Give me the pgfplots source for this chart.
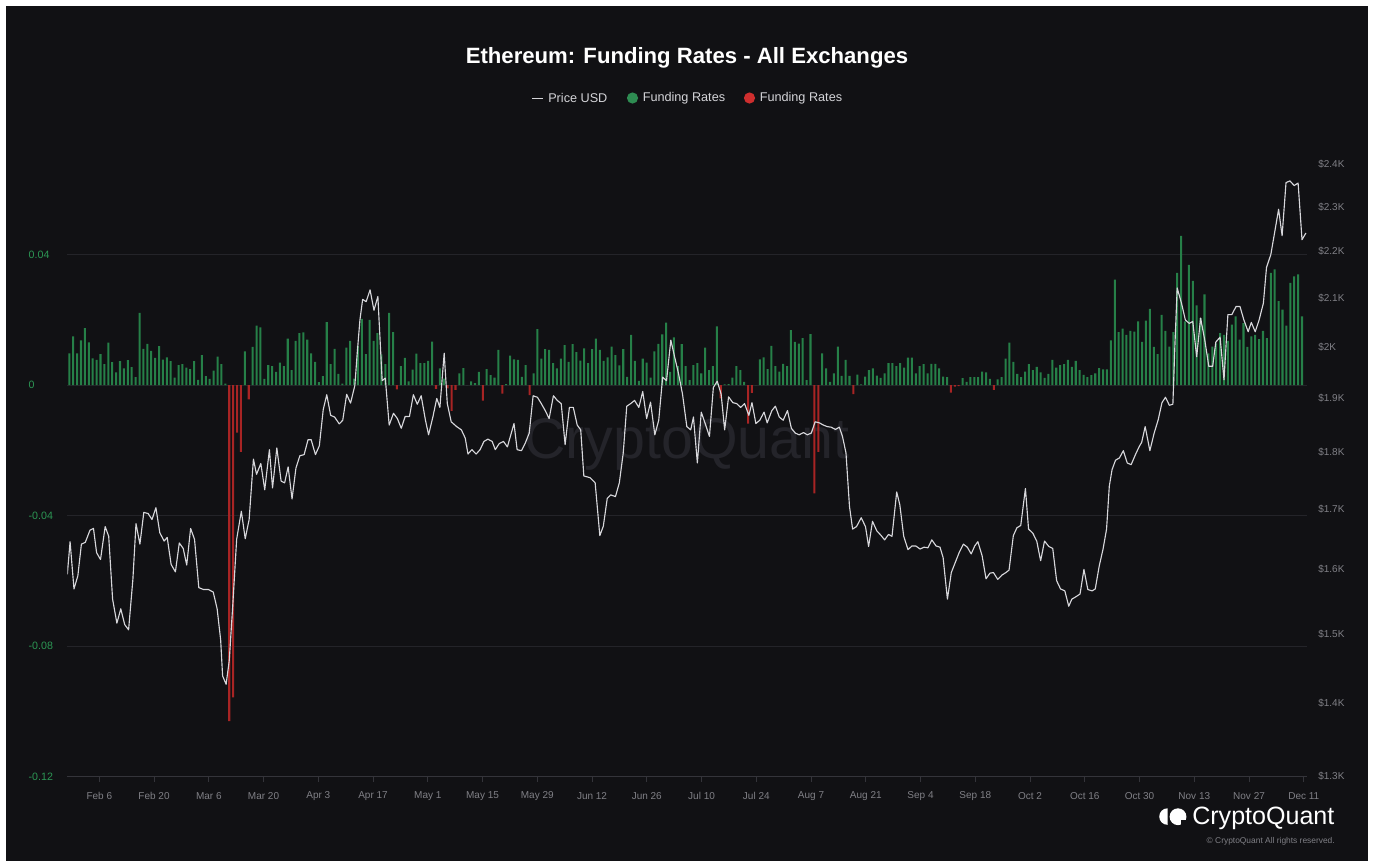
\documentclass[border=0pt]{standalone}
\usepackage{pgfplots}
\pgfplotsset{compat=1.18}
\usepackage{pgfplotstable}
\usepackage{fontspec}
\setmainfont{Liberation Sans}
\definecolor{bg}{RGB}{17,17,20}
\definecolor{gridc}{RGB}{36,36,41}
\definecolor{axisc}{RGB}{52,52,58}
\definecolor{gbar}{RGB}{38,128,72}
\definecolor{rbar}{RGB}{168,36,36}
\definecolor{gdot}{RGB}{46,140,82}
\definecolor{rdot}{RGB}{206,46,46}
\definecolor{ticklab}{RGB}{128,128,134}
\definecolor{ylab}{RGB}{44,150,84}
\definecolor{wm}{RGB}{36,36,42}
\definecolor{legtext}{RGB}{212,212,216}
\definecolor{pricec}{RGB}{215,215,219}

\pgfplotstableread{
n v
1 0.0097
2 0.0149
3 0.0097
4 0.0137
5 0.0174
6 0.0131
7 0.0082
8 0.0077
9 0.0095
10 0.0064
11 0.0130
12 0.0070
13 0.0039
14 0.0073
15 0.0051
16 0.0076
17 0.0055
18 0.0024
19 0.0221
20 0.0111
21 0.0126
22 0.0105
23 0.0083
24 0.0119
25 0.0078
26 0.0085
27 0.0073
28 0.0023
29 0.0061
30 0.0064
31 0.0053
32 0.0049
33 0.0073
34 0.0016
35 0.0092
36 0.0027
37 0.0019
38 0.0044
39 0.0087
40 0.0064
41 0.0004
46 0.0103
48 0.0117
49 0.0182
50 0.0177
51 0.0019
52 0.0061
53 0.0058
54 0.0040
55 0.0069
56 0.0058
57 0.0142
58 0.0046
59 0.0135
60 0.0159
61 0.0161
62 0.0139
63 0.0097
64 0.0071
65 0.0009
66 0.0027
67 0.0193
68 0.0064
69 0.0111
70 0.0034
71 0.0004
72 0.0115
73 0.0135
74 0.0020
75 0.0120
76 0.0203
77 0.0095
78 0.0200
79 0.0135
80 0.0159
81 0.0094
82 0.0064
83 0.0221
84 0.0162
86 0.0058
87 0.0083
88 0.0011
89 0.0047
90 0.0096
91 0.0067
92 0.0067
93 0.0074
94 0.0133
96 0.0051
97 0.0020
101 0.0036
102 0.0052
103 0.0000
104 0.0011
105 0.0006
106 0.0040
108 0.0049
109 0.0030
110 0.0023
111 0.0108
113 0.0003
114 0.0090
115 0.0079
116 0.0077
117 0.0025
118 0.0061
120 0.0036
121 0.0171
122 0.0081
123 0.0110
124 0.0108
125 0.0067
126 0.0051
127 0.0081
128 0.0122
129 0.0071
130 0.0125
131 0.0101
132 0.0075
133 0.0112
134 0.0067
135 0.0110
136 0.0142
137 0.0108
138 0.0074
139 0.0085
140 0.0118
141 0.0092
142 0.0060
143 0.0110
144 0.0025
145 0.0154
146 0.0074
147 0.0013
148 0.0081
149 0.0069
150 0.0023
151 0.0103
152 0.0126
153 0.0155
154 0.0191
155 0.0040
156 0.0146
157 0.0058
158 0.0125
159 0.0058
160 0.0015
161 0.0061
162 0.0067
163 0.0036
164 0.0115
165 0.0046
166 0.0058
167 0.0180
169 0.0002
170 0.0003
171 0.0023
172 0.0058
173 0.0046
174 0.0010
177 0.0000
178 0.0079
179 0.0085
180 0.0049
181 0.0120
182 0.0058
183 0.0041
184 0.0065
185 0.0058
186 0.0168
187 0.0132
188 0.0127
189 0.0144
190 0.0015
191 0.0156
194 0.0097
195 0.0051
196 0.0010
197 0.0036
198 0.0118
199 0.0028
200 0.0077
201 0.0028
203 0.0032
204 0.0002
205 0.0026
206 0.0046
207 0.0051
208 0.0029
209 0.0022
210 0.0036
211 0.0067
212 0.0067
213 0.0058
214 0.0067
215 0.0053
216 0.0084
217 0.0084
218 0.0036
219 0.0058
220 0.0064
221 0.0036
222 0.0065
223 0.0065
224 0.0051
225 0.0026
226 0.0024
230 0.0021
231 0.0010
232 0.0024
233 0.0024
234 0.0024
235 0.0041
236 0.0039
237 0.0019
239 0.0017
240 0.0024
241 0.0081
242 0.0130
243 0.0071
244 0.0034
245 0.0024
246 0.0041
247 0.0064
248 0.0046
249 0.0056
250 0.0039
251 0.0022
252 0.0034
253 0.0077
254 0.0053
255 0.0061
256 0.0064
257 0.0077
258 0.0056
259 0.0074
260 0.0046
261 0.0031
262 0.0024
263 0.0030
264 0.0036
265 0.0052
266 0.0048
267 0.0048
268 0.0137
269 0.0323
270 0.0162
271 0.0173
272 0.0154
273 0.0166
274 0.0164
275 0.0195
276 0.0132
277 0.0197
278 0.0233
279 0.0117
280 0.0095
281 0.0215
282 0.0166
283 0.0118
284 0.0162
285 0.0344
286 0.0457
287 0.0195
288 0.0368
289 0.0319
290 0.0244
291 0.0205
292 0.0278
293 0.0097
294 0.0118
295 0.0128
296 0.0159
297 0.0154
298 0.0135
299 0.0185
300 0.0210
301 0.0139
302 0.0190
303 0.0117
304 0.0149
305 0.0154
306 0.0141
307 0.0166
308 0.0144
309 0.0344
310 0.0354
311 0.0257
312 0.0231
313 0.0182
314 0.0313
315 0.0333
316 0.0339
317 0.0210
}\greentab

\pgfplotstableread{
n v
42 -0.1030
43 -0.0957
44 -0.0146
45 -0.0205
47 -0.0044
85 -0.0013
95 -0.0012
98 -0.0010
99 -0.0079
100 -0.0015
107 -0.0048
112 -0.0026
119 -0.0031
168 -0.0041
175 -0.0118
176 -0.0024
192 -0.0332
193 -0.0205
202 -0.0028
227 -0.0023
228 -0.0005
229 -0.0003
238 -0.0015
}\redtab

\pgfplotstableread{
n p
0.5 1592
1.2 1645
2.2 1569
3.2 1590
4.1 1641
5.1 1644
6.3 1664
7.2 1667
8.0 1627
9.0 1616
10.2 1670
11.1 1654
12.1 1553
13.2 1516
14.2 1538
15.2 1514
16.2 1506
17.3 1584
18.1 1675
19.1 1641
20.1 1694
21.2 1692
22.2 1682
23.2 1702
24.2 1660
25.3 1646
26.1 1652
27.1 1608
28.2 1596
29.2 1643
30.2 1634
31.1 1607
32.1 1667
33.1 1649
34.2 1571
35.4 1568
36.7 1568
37.9 1564
38.9 1538
39.8 1491
40.3 1438
41.2 1426
42.0 1460
42.9 1543
43.9 1649
45.1 1696
46.1 1650
47.1 1682
48.2 1787
49.0 1760
50.1 1779
51.1 1733
52.3 1804
53.1 1736
54.2 1807
55.3 1748
56.2 1745
57.1 1773
58.1 1717
59.1 1771
60.1 1793
61.2 1795
62.2 1822
63.0 1822
64.1 1795
65.1 1811
66.1 1878
67.0 1906
68.0 1867
69.0 1864
70.2 1851
71.1 1858
72.1 1907
73.1 1890
74.2 1924
74.8 1986
75.5 2054
76.2 2097
77.1 2092
78.1 2117
79.1 2074
80.1 2103
81.2 1933
82.0 1938
83.0 1849
84.1 1871
85.1 1861
86.1 1843
87.1 1865
88.2 1865
89.2 1906
90.2 1888
91.2 1904
92.3 1858
93.1 1831
94.2 1864
95.2 1899
96.0 1882
97.1 1987
97.9 1889
98.9 1855
100.3 1846
101.5 1840
102.5 1825
103.2 1796
104.2 1804
105.3 1796
106.3 1804
107.3 1819
108.3 1823
109.4 1819
110.2 1804
111.2 1815
112.3 1819
113.3 1809
114.3 1834
115.0 1852
115.8 1804
116.9 1802
117.9 1816
118.9 1834
119.9 1904
121.0 1901
122.0 1889
123.0 1876
124.0 1861
125.1 1904
126.1 1895
127.1 1889
128.1 1813
129.2 1882
130.2 1882
131.2 1849
132.1 1840
132.9 1757
134.5 1754
135.8 1745
137.0 1655
137.9 1671
138.9 1718
139.8 1724
141.0 1721
142.0 1745
143.0 1798
143.9 1884
144.9 1889
145.9 1895
147.0 1882
148.0 1912
149.0 1861
150.0 1892
151.1 1831
152.1 1858
153.1 1940
154.1 1933
155.2 2013
156.2 1979
157.2 1946
158.2 1907
159.3 1846
160.3 1840
161.0 1864
162.0 1780
163.0 1873
164.0 1852
165.1 1828
166.1 1920
167.1 1932
168.1 1907
169.0 1840
170.0 1902
171.1 1891
172.1 1889
173.1 1882
174.1 1889
175.2 1867
176.0 1891
177.0 1852
178.0 1858
179.1 1873
179.9 1853
181.1 1876
182.0 1884
183.0 1864
184.0 1858
185.1 1876
186.1 1843
187.1 1834
188.1 1831
189.2 1835
190.2 1831
191.2 1834
192.2 1855
193.3 1853
194.3 1849
195.3 1846
196.3 1845
197.4 1841
198.4 1845
199.2 1828
200.1 1798
201.0 1704
201.8 1666
202.8 1670
204.0 1685
205.1 1670
205.9 1637
206.9 1679
208.0 1663
209.0 1656
210.0 1648
211.0 1657
211.9 1654
213.1 1729
213.9 1707
214.9 1654
216.0 1632
217.0 1638
218.0 1638
219.1 1633
220.1 1636
221.1 1635
222.1 1648
223.2 1638
224.2 1636
225.0 1619
226.1 1553
227.1 1595
228.1 1611
229.1 1627
230.2 1641
231.2 1636
232.2 1625
233.1 1638
233.9 1645
235.0 1622
236.0 1585
237.0 1594
237.9 1595
239.0 1584
240.1 1591
241.1 1595
241.9 1599
243.0 1655
243.9 1668
244.9 1672
246.1 1735
246.9 1666
248.0 1659
249.0 1646
250.0 1614
251.0 1646
252.1 1637
253.1 1634
254.1 1582
255.1 1569
256.2 1566
257.2 1542
258.0 1553
259.1 1557
260.1 1561
261.1 1600
262.1 1568
263.2 1566
264.0 1569
265.0 1605
266.0 1633
266.9 1666
267.6 1739
268.3 1768
269.2 1785
270.2 1789
271.2 1802
272.2 1780
273.2 1777
274.3 1795
275.3 1810
275.9 1817
276.8 1846
278.0 1802
279.1 1834
280.1 1858
281.1 1891
282.0 1901
283.0 1886
283.9 1888
284.4 1999
285.0 2121
286.1 2089
287.1 2054
288.1 2047
289.0 2051
290.0 1980
291.0 2058
292.1 2012
293.1 1961
294.1 1961
294.9 2009
296.0 2019
297.0 1935
298.0 2065
299.0 2065
300.1 2082
301.1 2082
302.1 2054
303.2 2030
304.0 2049
305.0 2030
306.0 2054
307.1 2089
307.9 2165
309.0 2193
310.0 2243
311.0 2295
311.9 2235
312.9 2357
313.9 2361
315.0 2350
316.0 2356
317.0 2226
318.0 2241
}\pricetab

\begin{document}
\begin{tikzpicture}[x=0.75pt,y=-0.75pt]
\useasboundingbox (0,0) rectangle (1375,861);
\fill[white] (0,0) rectangle (1375,861);
\fill[bg] (6,6) rectangle (1368,861);
% watermark
\node[text=wm, font=\fontsize{43}{43}\selectfont] at (687,444) {CryptoQuant};
% title and legend
\node[text=white, font=\bfseries\fontsize{16.6}{20}\selectfont] at (687,58) {Ethereum: Funding Rates - All Exchanges};
\draw[legtext, line width=0.7pt] (532,98) -- (543,98);
\node[anchor=west, inner sep=0pt, text=legtext, font=\fontsize{9.5}{11}\selectfont] at (548,98) {Price USD};
\fill[gdot] (632.5,98) circle[radius=4.2pt];
\node[anchor=west, inner sep=0pt, text=legtext, font=\fontsize{9.5}{11}\selectfont] at (642.5,98) {Funding Rates};
\fill[rdot] (749.5,98) circle[radius=4.2pt];
\node[anchor=west, inner sep=0pt, text=legtext, font=\fontsize{9.5}{11}\selectfont] at (759.5,98) {Funding Rates};

\begin{axis}[
  at={(50.51pt,-582.525pt)}, anchor=south west,
  scale only axis, width=929.5pt, height=470.25pt,
  xmin=0.5, xmax=318.2, ymin=-0.12, ymax=0.0721,
  axis x line*=bottom, axis y line*=left,
  y axis line style={draw=none},
  x axis line style={draw=axisc, line width=0.75pt},
  tick align=outside, major tick length=4pt,
  xtick style={draw=axisc, line width=0.75pt},
  ytick style={draw=none},
  xtick={8.69,22.725,36.76,50.795,64.83,78.865,92.9,106.935,120.97,135.005,149.04,163.075,177.11,191.145,205.18,219.215,233.25,247.285,261.32,275.355,289.39,303.425,317.46},
  xticklabels={Feb 6,Feb 20,Mar 6,Mar 20,Apr 3,Apr 17,May 1,May 15,May 29,Jun 12,Jun 26,Jul 10,Jul 24,Aug 7,Aug 21,Sep 4,Sep 18,Oct 2,Oct 16,Oct 30,Nov 13,Nov 27,Dec 11},
  xticklabel style={text=ticklab, font=\fontsize{7.5}{9}\selectfont, inner sep=0pt, anchor=center, yshift=-10.3pt},
  ytick={-0.12,-0.08,-0.04,0,0.04},
  yticklabels={-0.12,-0.08,-0.04,0,0.04},
  yticklabel style={text=ylab, font=\fontsize{8}{9}\selectfont, inner sep=0pt, anchor=west, xshift=-25.2pt},
  ymajorgrids, major grid style={draw=gridc, line width=0.75pt},
  ybar, bar width=0.52,
]
\addplot[fill=gbar, draw=none, bar shift=0pt] table[x=n,y=v]{\greentab};
\addplot[fill=rbar, draw=none, bar shift=0pt] table[x=n,y=v]{\redtab};
\end{axis}

\begin{axis}[
  at={(50.51pt,-582.525pt)}, anchor=south west,
  scale only axis, width=929.5pt, height=470.25pt,
  xmin=0.5, xmax=318.2, ymode=log, ymin=1300, ymax=2436.2,
  axis x line=none, axis y line*=right,
  y axis line style={draw=none},
  ytick style={draw=none}, major tick length=0pt,
  ytick={1300,1400,1500,1600,1700,1800,1900,2000,2100,2200,2300,2400},
  yticklabels={\$1.3K,\$1.4K,\$1.5K,\$1.6K,\$1.7K,\$1.8K,\$1.9K,\$2K,\$2.1K,\$2.2K,\$2.3K,\$2.4K},
  yticklabel style={text=ticklab, font=\fontsize{7.5}{9}\selectfont, inner sep=0pt, anchor=west, xshift=8.5pt},
]
\addplot[pricec, line width=0.85pt, line join=round, mark=none] table[x=n,y=p]{\pricetab};
\end{axis}

% logo
\fill[white] (1167.5,808.3) arc[start angle=90, end angle=270, radius=6.2pt] -- cycle;
\fill[white] (1178,816.7) circle[radius=6.3pt];
\fill[bg] (1181,819.5) rectangle (1187,825.5);
\node[anchor=west, inner sep=0pt, text=white, font=\fontsize{18.8}{20}\selectfont] at (1192,818) {CryptoQuant};
\node[anchor=east, inner sep=0pt, text=ticklab, font=\fontsize{6.3}{7}\selectfont] at (1335,841) {© CryptoQuant All rights reserved.};
\end{tikzpicture}
\end{document}
